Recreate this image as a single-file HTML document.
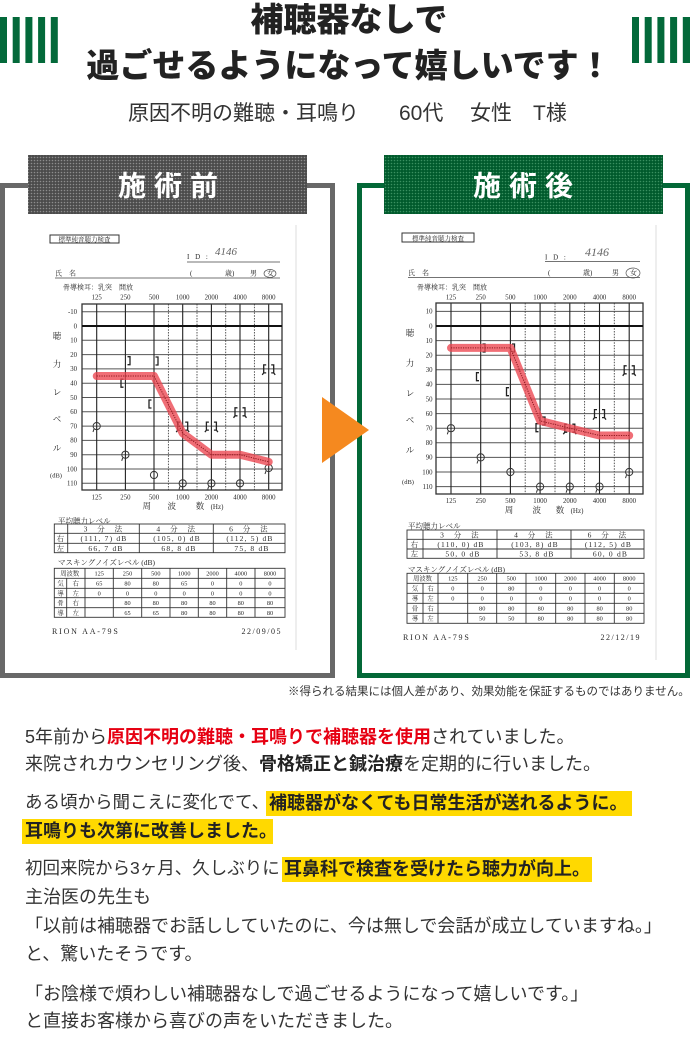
<!DOCTYPE html>
<html><head><meta charset="utf-8">
<style>
html,body{margin:0;padding:0;background:#fff;}
#w{position:relative;width:690px;height:1060px;overflow:hidden;background:#fff;font-family:"Liberation Sans","Noto Sans CJK JP",sans-serif;}
.abs{position:absolute;white-space:nowrap;}
.ttl{left:4px;width:690px;text-align:center;font-size:33px;line-height:33px;font-weight:900;color:#222;}
.sub{font-size:21px;line-height:21px;color:#333;}
.t{position:absolute;left:25px;white-space:nowrap;font-size:18px;line-height:28px;color:#333;}
.r{color:#e60012;font-weight:700;}
.b{font-weight:700;color:#222;}
.hl{position:absolute;background:#ffd900;height:25px;white-space:nowrap;font-size:18px;line-height:25px;font-weight:700;color:#222;}
svg text{font-family:"Liberation Serif","Noto Serif CJK SC",serif;fill:#2a2a2a;}
</style></head><body>
<div id="w">
<svg width="690" height="1060" viewBox="0 0 690 1060" style="position:absolute;left:0;top:0">
<defs>
<pattern id="pg" width="3" height="3" patternUnits="userSpaceOnUse"><rect width="3" height="3" fill="#4b4b4b"/><circle cx="1.5" cy="1.5" r="0.8" fill="#8d8d8d"/></pattern>
<pattern id="pn" width="3" height="3" patternUnits="userSpaceOnUse"><rect width="3" height="3" fill="#005a2c"/><circle cx="1.5" cy="1.5" r="0.8" fill="#3a9060"/></pattern>
</defs>
<!-- header bars -->
<g fill="#03693a">
<rect x="0" y="17" width="7" height="46"/><rect x="12.7" y="17" width="7" height="46"/><rect x="25.4" y="17" width="7" height="46"/><rect x="38.1" y="17" width="7" height="46"/><rect x="50.8" y="17" width="7" height="46"/>
<rect x="632" y="17" width="7" height="46"/><rect x="644.7" y="17" width="7" height="46"/><rect x="657.4" y="17" width="7" height="46"/><rect x="670.1" y="17" width="7" height="46"/><rect x="682.8" y="17" width="7.2" height="46"/>
</g>
<!-- frames -->
<rect x="2.5" y="185.5" width="330" height="490" fill="#fff" stroke="#686868" stroke-width="5"/>
<rect x="359.5" y="185.5" width="328" height="490" fill="#fff" stroke="#036837" stroke-width="5"/>
<rect x="28" y="155" width="279" height="59" fill="url(#pg)"/>
<rect x="384" y="155" width="279" height="59" fill="url(#pn)"/>
<g font-size="28" font-weight="700" text-anchor="middle">
<text x="132" y="195.6" style="fill:#fff;font-family:'Liberation Sans','Noto Sans CJK JP',sans-serif">施</text>
<text x="168" y="195.6" style="fill:#fff;font-family:'Liberation Sans','Noto Sans CJK JP',sans-serif">術</text>
<text x="204" y="195.6" style="fill:#fff;font-family:'Liberation Sans','Noto Sans CJK JP',sans-serif">前</text>
<text x="487" y="195.6" style="fill:#fff;font-family:'Liberation Sans','Noto Sans CJK JP',sans-serif">施</text>
<text x="523" y="195.6" style="fill:#fff;font-family:'Liberation Sans','Noto Sans CJK JP',sans-serif">術</text>
<text x="559" y="195.6" style="fill:#fff;font-family:'Liberation Sans','Noto Sans CJK JP',sans-serif">後</text>
</g>
<!-- arrow -->
<polygon points="322,397 369,430 322,463" fill="#f5891f"/>
<!-- faint scan edges -->
<line x1="296" y1="225" x2="296" y2="650" stroke="#eeeeee" stroke-width="2"/>
<line x1="656" y1="225" x2="656" y2="660" stroke="#eeeeee" stroke-width="2"/>

<!-- ================= LEFT SCAN ================= -->
<rect x="50" y="235" width="69" height="8" fill="none" stroke="#333" stroke-width="1"/>
<text x="84.5" y="241.7" font-size="6.5" text-anchor="middle">標準純音聴力検査</text>
<text x="187" y="259" font-size="7" letter-spacing="2">I D :</text>
<text x="215" y="255" font-size="11" font-style="italic" style="fill:#666">4146</text>
<line x1="187" y1="262" x2="280" y2="262" stroke="#444" stroke-width="0.8"/>
<text x="55" y="275.5" font-size="7">氏　名</text>
<line x1="55" y1="278" x2="280" y2="278" stroke="#444" stroke-width="0.8"/>
<text x="190" y="275.5" font-size="7">(</text>
<text x="225" y="275.5" font-size="7">歳)</text>
<text x="250" y="275.5" font-size="7">男</text>
<text x="267" y="275.5" font-size="7">女</text>
<ellipse cx="270" cy="273.5" rx="6" ry="4" fill="none" stroke="#555" stroke-width="0.7"/>
<text x="63" y="289.5" font-size="7">骨導検耳：乳突　開放</text>
<g font-size="6.8" text-anchor="middle">
<text x="96.7" y="299.5">125</text><text x="125.4" y="299.5">250</text><text x="154" y="299.5">500</text><text x="182.7" y="299.5">1000</text><text x="211.4" y="299.5">2000</text><text x="240" y="299.5">4000</text><text x="268.7" y="299.5">8000</text>
<text x="96.7" y="499.5">125</text><text x="125.4" y="499.5">250</text><text x="154" y="499.5">500</text><text x="182.7" y="499.5">1000</text><text x="211.4" y="499.5">2000</text><text x="240" y="499.5">4000</text><text x="268.7" y="499.5">8000</text>
</g>
<g font-size="8.5" text-anchor="middle">
<text x="146.7" y="509">周</text><text x="171.7" y="509">波</text><text x="200" y="509">数</text><text x="217" y="509" font-size="7">(Hz)</text>
<text x="57" y="339">聴</text><text x="57" y="367">力</text><text x="57" y="395">レ</text><text x="57" y="422">ベ</text><text x="57" y="451">ル</text>
<text x="56" y="477.5" font-size="6.5">(dB)</text>
</g>
<g font-size="6.8" text-anchor="end">
<text x="77" y="314">-10</text><text x="77" y="328.3">0</text><text x="77" y="342.6">10</text><text x="77" y="356.9">20</text><text x="77" y="371.2">30</text><text x="77" y="385.5">40</text><text x="77" y="399.8">50</text><text x="77" y="414.1">60</text><text x="77" y="428.4">70</text><text x="77" y="442.7">80</text><text x="77" y="457">90</text><text x="77" y="471.3">100</text><text x="77" y="485.6">110</text>
</g>
<path d="M82,311.7H282 M82,340.3H282 M82,354.6H282 M82,368.9H282 M82,383.2H282 M82,397.5H282 M82,411.8H282 M82,426.1H282 M82,440.4H282 M82,454.7H282 M82,469H282 M82,483.3H282" stroke="#555" stroke-width="1" fill="none"/>
<path d="M168.4,304V490 M197,304V490 M225.7,304V490 M254.4,304V490" stroke="#444" stroke-width="0.9" stroke-dasharray="1.5 1.3" fill="none"/>
<path d="M96.7,304V490 M125.4,304V490 M154,304V490 M182.7,304V490 M211.4,304V490 M240,304V490 M268.7,304V490" stroke="#222" stroke-width="1.1" fill="none"/>
<rect x="82" y="304" width="200" height="186" fill="none" stroke="#333" stroke-width="1.3"/>
<path d="M82,326H282" stroke="#111" stroke-width="2"/>
<!-- left symbols -->
<g stroke="#222" stroke-width="1.3" fill="none">
<path d="M127.5,356.7H130V364.7H127.5 M155.5,357H158V365H155.5 M123.5,379.2H121V387.2H123.5 M151.5,400H149V408H151.5"/>
<path d="M180.2,422.1H177.7V430.1H180.2 M185.2,422.1H187.7V430.1H185.2 M177.7,430.1l-1.5,2 M187.7,430.1l1.5,2"/>
<path d="M208.9,422.1H206.4V430.1H208.9 M213.9,422.1H216.4V430.1H213.9 M206.4,430.1l-1.5,2 M216.4,430.1l1.5,2"/>
<path d="M237.5,407.8H235V415.8H237.5 M242.5,407.8H245V415.8H242.5 M235,415.8l-1.5,2 M245,415.8l1.5,2"/>
<path d="M266.2,364.9H263.7V372.9H266.2 M271.2,364.9H273.7V372.9H271.2 M263.7,372.9l-1.5,2 M273.7,372.9l1.5,2"/>
</g>
<g stroke="#333" stroke-width="1" fill="none">
<circle cx="96.7" cy="426.1" r="3.6"/><circle cx="125.4" cy="454.7" r="3.6"/><circle cx="154" cy="475" r="3.6"/><circle cx="182.7" cy="483.3" r="3.6"/><circle cx="211.4" cy="483.3" r="3.6"/><circle cx="240" cy="483.3" r="3.6"/><circle cx="268.7" cy="468" r="3.6"/>
<path d="M94,429l-1,3 M122.7,457.8l-1,3 M180,486.4l-1,3 M208.7,486.4l-1,3 M266,471l-1,3"/>
</g>
<polyline points="96.7,376.05 125.4,376.05 154,376.05 182.7,433.25 211.4,454.7 240,454.7 268.7,461.85" fill="none" stroke="#ec4550" stroke-opacity="0.78" stroke-width="8" stroke-linejoin="round" stroke-linecap="round"/>
<polyline points="96.7,376.05 125.4,376.05 154,376.05 182.7,433.25 211.4,454.7 240,454.7 268.7,461.85" fill="none" stroke="#8e1a20" stroke-width="1" stroke-dasharray="1.2 1.2"/>
<!-- left tables -->
<text x="58" y="523.5" font-size="7.5">平均聴力レベル</text>
<g stroke="#333" stroke-width="0.9" fill="none">
<rect x="54.3" y="524" width="230.7" height="28.7"/>
<path d="M54.3,533.3H285 M54.3,543.3H285 M67.7,524V552.7 M139.3,524V552.7 M213.3,524V552.7"/>
</g>
<g font-size="7.5" text-anchor="middle" letter-spacing="1.2">
<text x="103.5" y="531.3">3　分　法</text><text x="176.3" y="531.3">4　分　法</text><text x="249" y="531.3">6　分　法</text>
<text x="61" y="541">右</text><text x="104" y="541">(111, 7) dB</text><text x="177" y="541">(105, 0) dB</text><text x="250" y="541">(112, 5) dB</text>
<text x="61" y="550.8">左</text><text x="106" y="550.8">66, 7 dB</text><text x="179" y="550.8">68, 8 dB</text><text x="252" y="550.8">75, 8 dB</text>
</g>
<text x="58" y="565" font-size="7.5">マスキングノイズレベル (dB)</text>
<g stroke="#333" stroke-width="0.9" fill="none">
<rect x="54.3" y="568.3" width="230.7" height="49"/>
<path d="M54.3,578.3H285 M54.3,588.3H285 M54.3,597.7H285 M54.3,607.7H285 M66.7,578.3V617.3 M85,568.3V617.3 M113.3,568.3V617.3 M141.7,568.3V617.3 M170,568.3V617.3 M198.3,568.3V617.3 M226.7,568.3V617.3 M255,568.3V617.3"/>
</g>
<g font-size="6.3" text-anchor="middle">
<text x="69.7" y="575.6">周波数</text><text x="99.2" y="575.6">125</text><text x="127.5" y="575.6">250</text><text x="155.8" y="575.6">500</text><text x="184.2" y="575.6">1000</text><text x="212.5" y="575.6">2000</text><text x="240.8" y="575.6">4000</text><text x="270" y="575.6">8000</text>
<text x="60.5" y="585.6">気</text><text x="75.8" y="585.6">右</text><text x="99.2" y="585.6">65</text><text x="127.5" y="585.6">80</text><text x="155.8" y="585.6">80</text><text x="184.2" y="585.6">65</text><text x="212.5" y="585.6">0</text><text x="240.8" y="585.6">0</text><text x="270" y="585.6">0</text>
<text x="60.5" y="595.3">導</text><text x="75.8" y="595.3">左</text><text x="99.2" y="595.3">0</text><text x="127.5" y="595.3">0</text><text x="155.8" y="595.3">0</text><text x="184.2" y="595.3">0</text><text x="212.5" y="595.3">0</text><text x="240.8" y="595.3">0</text><text x="270" y="595.3">0</text>
<text x="60.5" y="605">骨</text><text x="75.8" y="605">右</text><text x="127.5" y="605">80</text><text x="155.8" y="605">80</text><text x="184.2" y="605">80</text><text x="212.5" y="605">80</text><text x="240.8" y="605">80</text><text x="270" y="605">80</text>
<text x="60.5" y="614.8">導</text><text x="75.8" y="614.8">左</text><text x="127.5" y="614.8">65</text><text x="155.8" y="614.8">65</text><text x="184.2" y="614.8">80</text><text x="212.5" y="614.8">80</text><text x="240.8" y="614.8">80</text><text x="270" y="614.8">80</text>
</g>
<text x="52" y="634" font-size="8" letter-spacing="1.8">RION  AA-79S</text>
<text x="282" y="634" font-size="8" letter-spacing="1.5" text-anchor="end">22/09/05</text>

<!-- ================= RIGHT SCAN ================= -->
<rect x="402" y="233" width="72" height="9" fill="none" stroke="#333" stroke-width="1"/>
<text x="438" y="240.3" font-size="6.5" text-anchor="middle">標準純音聴力検査</text>
<text x="545" y="259.5" font-size="7" letter-spacing="2">I D :</text>
<text x="585" y="256" font-size="12" font-style="italic" style="fill:#666">4146</text>
<line x1="545" y1="261.5" x2="640" y2="261.5" stroke="#444" stroke-width="0.8"/>
<text x="408" y="275" font-size="7">氏　名</text>
<line x1="408" y1="277.5" x2="640" y2="277.5" stroke="#444" stroke-width="0.8"/>
<text x="548" y="275" font-size="7">(</text>
<text x="583" y="275" font-size="7">歳)</text>
<text x="612" y="275" font-size="7">男</text>
<text x="630" y="275" font-size="7">女</text>
<ellipse cx="633" cy="273" rx="7" ry="5" fill="none" stroke="#555" stroke-width="0.7"/>
<text x="417" y="289.5" font-size="7">骨導検耳：乳突　開放</text>
<g font-size="6.8" text-anchor="middle">
<text x="451" y="299.5">125</text><text x="480.7" y="299.5">250</text><text x="510.4" y="299.5">500</text><text x="540.1" y="299.5">1000</text><text x="569.8" y="299.5">2000</text><text x="599.5" y="299.5">4000</text><text x="629.2" y="299.5">8000</text>
<text x="451" y="503">125</text><text x="480.7" y="503">250</text><text x="510.4" y="503">500</text><text x="540.1" y="503">1000</text><text x="569.8" y="503">2000</text><text x="599.5" y="503">4000</text><text x="629.2" y="503">8000</text>
</g>
<g font-size="8.5" text-anchor="middle">
<text x="509" y="513">周</text><text x="536.7" y="513">波</text><text x="560" y="513">数</text><text x="577" y="513" font-size="7">(Hz)</text>
<text x="410" y="336">聴</text><text x="410" y="366">力</text><text x="410" y="396">レ</text><text x="410" y="423">ベ</text><text x="410" y="453">ル</text>
<text x="408" y="484" font-size="6.5">(dB)</text>
</g>
<g font-size="6.8" text-anchor="end">
<text x="432.5" y="313.7">10</text><text x="432.5" y="328.3">0</text><text x="432.5" y="342.9">10</text><text x="432.5" y="357.5">20</text><text x="432.5" y="372.1">30</text><text x="432.5" y="386.7">40</text><text x="432.5" y="401.3">50</text><text x="432.5" y="415.9">60</text><text x="432.5" y="430.5">70</text><text x="432.5" y="445.1">80</text><text x="432.5" y="459.7">90</text><text x="432.5" y="474.3">100</text><text x="432.5" y="488.9">110</text>
</g>
<path d="M436,311.4H643 M436,340.6H643 M436,355.2H643 M436,369.8H643 M436,384.4H643 M436,399H643 M436,413.6H643 M436,428.2H643 M436,442.8H643 M436,457.4H643 M436,472H643 M436,486.6H643" stroke="#555" stroke-width="1" fill="none"/>
<path d="M525.2,303V494 M555,303V494 M584.6,303V494 M614.3,303V494" stroke="#444" stroke-width="0.9" stroke-dasharray="1.5 1.3" fill="none"/>
<path d="M451,303V494 M480.7,303V494 M510.4,303V494 M540.1,303V494 M569.8,303V494 M599.5,303V494 M629.2,303V494" stroke="#222" stroke-width="1.1" fill="none"/>
<rect x="436" y="303" width="207" height="191" fill="none" stroke="#333" stroke-width="1.3"/>
<path d="M436,326H643" stroke="#111" stroke-width="2"/>
<g stroke="#222" stroke-width="1.3" fill="none">
<path d="M482.5,344H485V352H482.5 M512,344H514.5V352H512 M479,372.7H476.5V380.7H479 M509,387.7H506.5V395.7H509 M538.5,423.7H536V431.7H538.5 M542,417H545V425H542"/>
<path d="M567.3,424.2H564.8V432.2H567.3 M572.3,424.2H574.8V432.2H572.3 M564.8,432.2l-1.5,2 M574.8,432.2l1.5,2"/>
<path d="M597,409.6H594.5V417.6H597 M602,409.6H604.5V417.6H602 M594.5,417.6l-1.5,2 M604.5,417.6l1.5,2"/>
<path d="M626.7,365.8H624.2V373.8H626.7 M631.7,365.8H634.2V373.8H631.7 M624.2,373.8l-1.5,2 M634.2,373.8l1.5,2"/>
</g>
<g stroke="#333" stroke-width="1" fill="none">
<circle cx="451" cy="428.2" r="3.6"/><circle cx="480.7" cy="457.4" r="3.6"/><circle cx="510.4" cy="472" r="3.6"/><circle cx="540.1" cy="486.6" r="3.6"/><circle cx="569.8" cy="486.6" r="3.6"/><circle cx="599.5" cy="486.6" r="3.6"/><circle cx="629.2" cy="472" r="3.6"/>
<path d="M448.3,431.3l-1,3 M478,460.5l-1,3 M537.4,489.7l-1,3 M567.1,489.7l-1,3 M596.8,489.7l-1,3 M626.5,475.1l-1,3"/>
</g>
<polyline points="451,347.9 480.7,347.9 510.4,347.9 540.1,420.9 569.8,428.2 599.5,435.5 629.2,435.5" fill="none" stroke="#ec4550" stroke-opacity="0.78" stroke-width="8" stroke-linejoin="round" stroke-linecap="round"/>
<polyline points="451,347.9 480.7,347.9 510.4,347.9 540.1,420.9 569.8,428.2 599.5,435.5 629.2,435.5" fill="none" stroke="#8e1a20" stroke-width="1" stroke-dasharray="1.2 1.2"/>
<!-- right tables -->
<text x="408" y="528.5" font-size="7.5">平均聴力レベル</text>
<g stroke="#333" stroke-width="0.9" fill="none">
<rect x="407" y="530" width="237" height="28.3"/>
<path d="M407,539.3H644 M407,549H644 M423,530V558.3 M497,530V558.3 M571,530V558.3"/>
</g>
<g font-size="7.5" text-anchor="middle" letter-spacing="1.2">
<text x="460" y="537.3">3　分　法</text><text x="534" y="537.3">4　分　法</text><text x="607.5" y="537.3">6　分　法</text>
<text x="415" y="546.8">右</text><text x="461" y="546.8">(110, 0) dB</text><text x="535" y="546.8">(103, 8) dB</text><text x="608.5" y="546.8">(112, 5) dB</text>
<text x="415" y="556.3">左</text><text x="463" y="556.3">50, 0 dB</text><text x="537" y="556.3">53, 8 dB</text><text x="610.5" y="556.3">60, 0 dB</text>
</g>
<text x="408" y="572" font-size="7.5">マスキングノイズレベル (dB)</text>
<g stroke="#333" stroke-width="0.9" fill="none">
<rect x="407" y="573.3" width="237" height="50"/>
<path d="M407,583.3H644 M407,593.3H644 M407,603.3H644 M407,613.3H644 M423,583.3V623.3 M438,573.3V623.3 M467.7,573.3V623.3 M496.7,573.3V623.3 M526,573.3V623.3 M555.7,573.3V623.3 M585,573.3V623.3 M614.3,573.3V623.3"/>
</g>
<g font-size="6.3" text-anchor="middle">
<text x="422.5" y="580.6">周波数</text><text x="452.8" y="580.6">125</text><text x="482.2" y="580.6">250</text><text x="511.3" y="580.6">500</text><text x="540.8" y="580.6">1000</text><text x="570.3" y="580.6">2000</text><text x="599.6" y="580.6">4000</text><text x="629.2" y="580.6">8000</text>
<text x="415" y="590.6">気</text><text x="430.5" y="590.6">右</text><text x="452.8" y="590.6">0</text><text x="482.2" y="590.6">0</text><text x="511.3" y="590.6">80</text><text x="540.8" y="590.6">0</text><text x="570.3" y="590.6">0</text><text x="599.6" y="590.6">0</text><text x="629.2" y="590.6">0</text>
<text x="415" y="600.6">導</text><text x="430.5" y="600.6">左</text><text x="452.8" y="600.6">0</text><text x="482.2" y="600.6">0</text><text x="511.3" y="600.6">0</text><text x="540.8" y="600.6">0</text><text x="570.3" y="600.6">0</text><text x="599.6" y="600.6">0</text><text x="629.2" y="600.6">0</text>
<text x="415" y="610.6">骨</text><text x="430.5" y="610.6">右</text><text x="482.2" y="610.6">80</text><text x="511.3" y="610.6">80</text><text x="540.8" y="610.6">80</text><text x="570.3" y="610.6">80</text><text x="599.6" y="610.6">80</text><text x="629.2" y="610.6">80</text>
<text x="415" y="620.6">導</text><text x="430.5" y="620.6">左</text><text x="482.2" y="620.6">50</text><text x="511.3" y="620.6">50</text><text x="540.8" y="620.6">80</text><text x="570.3" y="620.6">80</text><text x="599.6" y="620.6">80</text><text x="629.2" y="620.6">80</text>
</g>
<text x="403" y="640" font-size="8" letter-spacing="1.8">RION  AA-79S</text>
<text x="641" y="640" font-size="8" letter-spacing="1.5" text-anchor="end">22/12/19</text>
</svg>

<!-- header text -->
<div class="abs ttl" style="top:2.5px">補聴器なしで</div>
<div class="abs ttl" style="top:48.5px">過ごせるようになって嬉しいです！</div>
<div class="abs sub" style="left:128px;top:103px">原因不明の難聴・耳鳴り</div>
<div class="abs sub" style="left:399px;top:103px">60代</div>
<div class="abs sub" style="left:470px;top:103px">女性</div>
<div class="abs sub" style="left:533px;top:103px">T様</div>

<div class="abs" style="left:288px;top:687px;font-size:11.5px;line-height:11.5px;color:#333">※得られる結果には個人差があり、効果効能を保証するものではありません。</div>

<!-- body text -->
<div class="t" style="top:723px">5年前から<span class="r">原因不明の難聴・耳鳴りで補聴器を使用</span>されていました。</div>
<div class="t" style="top:750px">来院されカウンセリング後、<span class="b">骨格矯正と鍼治療</span>を定期的に行いました。</div>
<div class="t" style="top:788px;font-size:17.5px">ある頃から聞こえに変化でて、</div>
<div class="hl" style="left:266px;top:791px;width:363px;padding-left:3px">補聴器がなくても日常生活が送れるように。</div>
<div class="hl" style="left:22px;top:819px;width:248px;padding-left:3px">耳鳴りも次第に改善しました。</div>
<div class="t" style="top:854px;font-size:17.5px">初回来院から3ヶ月、久しぶりに</div>
<div class="hl" style="left:282px;top:857px;width:308px;padding-left:2px">耳鼻科で検査を受けたら聴力が向上。</div>
<div class="t" style="top:883px">主治医の先生も</div>
<div class="t" style="top:912px">「以前は補聴器でお話ししていたのに、今は無しで会話が成立していますね。」</div>
<div class="t" style="top:940px">と、驚いたそうです。</div>
<div class="t" style="top:980px">「お陰様で煩わしい補聴器なしで過ごせるようになって嬉しいです。」</div>
<div class="t" style="top:1007px">と直接お客様から喜びの声をいただきました。</div>
</div>
</body></html>
